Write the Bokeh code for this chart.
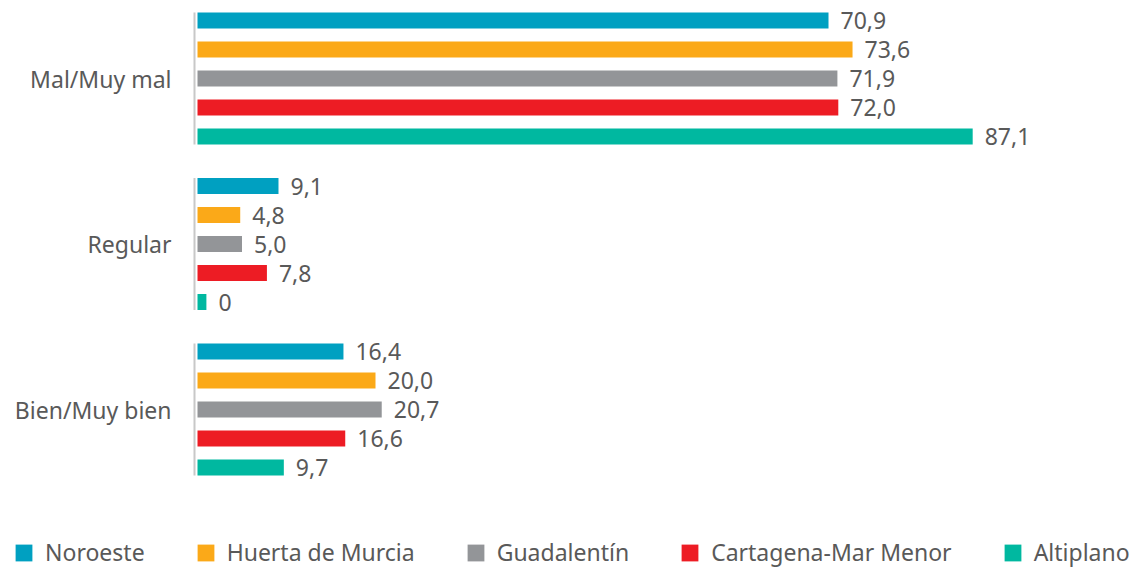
from bokeh.plotting import figure
from bokeh.models import ColumnDataSource, Range1d, Legend, LegendItem
from bokeh.core.properties import value
from bokeh.embed import file_html
from bokeh.resources import INLINE

categories = ["Mal/Muy mal", "Regular", "Bien/Muy bien"]
series = ["Noroeste", "Huerta de Murcia", "Guadalentín", "Cartagena-Mar Menor", "Altiplano"]
colors = ["#00A0C1", "#FBA918", "#939598", "#ED1C24", "#00B8A0"]
values = {
    "Noroeste":            [70.9, 9.1, 16.4],
    "Huerta de Murcia":    [73.6, 4.8, 20.0],
    "Guadalentín":         [71.9, 5.0, 20.7],
    "Cartagena-Mar Menor": [72.0, 7.8, 16.6],
    "Altiplano":           [87.1, 1.0, 9.7],
}
labels = {
    "Noroeste":            ["70,9", "9,1", "16,4"],
    "Huerta de Murcia":    ["73,6", "4,8", "20,0"],
    "Guadalentín":         ["71,9", "5,0", "20,7"],
    "Cartagena-Mar Menor": ["72,0", "7,8", "16,6"],
    "Altiplano":           ["87,1", "0", "9,7"],
}

W, H = 1135, 568
FONT = "Noto Sans"
TXT = "#595959"
px_per_unit = 8.9
x0_px = 197
grp_px = 165.5
top_px = 78

p = figure(width=W, height=H, output_backend="svg", toolbar_location=None,
           min_border=0, min_border_left=0, min_border_right=0,
           min_border_top=0, min_border_bottom=0,
           x_range=Range1d(-x0_px / px_per_unit, (W - x0_px) / px_per_unit),
           y_range=Range1d(-(H - top_px) / grp_px, top_px / grp_px))
p.axis.visible = False
p.grid.visible = False
p.outline_line_color = None

step = 29 / grp_px
bar_h = 16 / grp_px

items = []
for j, s in enumerate(series):
    ys = [-g - (j - 2) * step for g in range(len(categories))]
    src = ColumnDataSource(dict(y=ys, right=values[s], lab=labels[s]))
    r = p.hbar(y="y", left=0, right="right", height=bar_h, source=src,
               fill_color=colors[j], line_color=None)
    p.text(x="right", y="y", text="lab", source=src, x_offset=12,
           text_font=value(FONT), text_font_size="23px", text_color=TXT,
           text_baseline="middle", text_align="left")
    items.append(LegendItem(label=s, renderers=[r]))

# category labels and axis segments
cy = [-g for g in range(len(categories))]
p.text(x=[0] * 3, y=cy, text=categories, x_offset=-26,
       text_font=value(FONT), text_font_size="23px", text_color=TXT,
       text_baseline="middle", text_align="right")
half = 66 / grp_px
p.segment(x0=[-3 / px_per_unit] * 3, x1=[-3 / px_per_unit] * 3,
          y0=[c + half for c in cy], y1=[c - half for c in cy],
          line_color="#C8C8C8", line_width=2)

legend = Legend(items=items, orientation="horizontal", location=(13, 0),
                glyph_width=21, glyph_height=21, label_standoff=11, spacing=50,
                padding=0, margin=0, border_line_color=None, background_fill_alpha=0,
                label_text_font=FONT, label_text_font_size="23px", label_text_color=TXT)
p.add_layout(legend)

open("out.html", "w").write(file_html(p, INLINE))
